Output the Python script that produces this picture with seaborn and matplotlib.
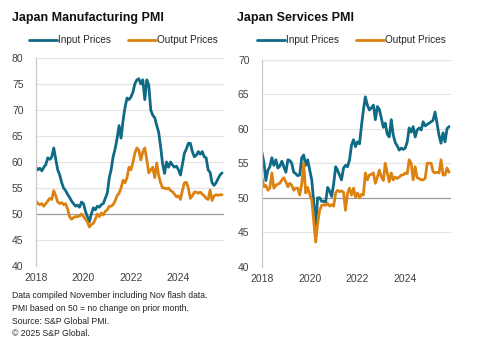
import matplotlib
matplotlib.use("Agg")
import matplotlib.pyplot as plt
import matplotlib.dates as mdates
import numpy as np
import pandas as pd
import seaborn as sns

# Monthly survey readings, Jan 2018 - Nov 2025
months = pd.date_range("2018-01-01", "2025-11-01", freq="MS")

mfg_input = [
    59.0, 58.5, 58.8, 58.3, 59.0, 59.5, 60.8, 60.5, 61.0, 62.7, 60.5, 58.5,
    57.5, 56.0, 55.0, 54.5, 53.8, 53.2, 52.5, 52.0, 51.5, 51.7, 51.3, 52.3,
    52.0, 50.5, 49.5, 48.5, 50.0, 51.2, 50.8, 51.5, 51.3, 51.8, 52.0, 53.0,
    54.0, 57.0, 58.5, 61.0, 62.5, 64.5, 67.0, 64.6, 68.0, 70.5, 72.3, 72.0,
    72.5, 73.5, 75.0, 75.8, 76.0, 75.0, 75.8, 72.0, 75.8, 74.8, 70.0, 69.0,
    68.5, 67.0, 65.8, 63.0, 59.7, 57.8, 60.0, 59.0, 60.0, 59.4, 59.0, 59.2,
    58.5, 57.5, 59.5, 61.7, 62.5, 63.6, 63.6, 62.0, 61.0, 61.3, 62.0, 61.5,
    62.0, 61.0, 60.8, 58.5, 58.0, 56.0, 55.5, 56.0, 56.8, 57.5, 57.9,
]
mfg_output = [
    52.5, 52.0, 51.8, 52.0, 51.5, 52.0, 52.5, 53.0, 52.8, 54.5, 53.5, 52.3,
    52.0, 52.2, 51.8, 52.0, 51.0, 49.5, 49.0, 49.3, 49.5, 49.5, 49.6, 50.0,
    49.5, 49.0, 48.5, 47.5, 48.0, 48.2, 49.0, 50.0, 49.5, 50.2, 49.8, 50.5,
    50.8, 51.5, 51.5, 51.8, 52.5, 53.5, 54.0, 55.0, 56.5, 56.0, 57.0, 59.0,
    58.5, 60.0, 61.7, 62.7, 62.3, 60.4, 61.9, 62.7, 60.4, 57.9, 58.5, 59.0,
    57.0, 59.8, 57.5, 56.0, 55.0, 55.0, 54.8, 55.0, 54.5, 54.3, 53.8, 53.3,
    53.5, 52.8, 54.5, 56.0, 56.1, 55.0, 53.0, 53.5, 54.2, 54.2, 54.0, 54.2,
    53.8, 53.5, 53.0, 52.8, 54.6, 52.6, 53.5, 53.7, 53.6, 53.7, 53.7,
]
svc_input = [
    56.5, 55.0, 52.5, 54.0, 54.5, 55.8, 54.7, 55.5, 54.3, 54.6, 55.3, 54.5,
    53.7, 55.5, 55.4, 55.0, 53.7, 53.5, 53.2, 53.3, 55.8, 56.2, 54.7, 55.5,
    54.0, 52.6, 49.5, 46.0, 50.0, 50.0, 49.5, 49.5, 49.4, 51.5, 51.0, 50.2,
    52.0, 54.5, 54.0, 53.3, 52.6, 54.3, 54.7, 54.5, 55.5, 57.6, 58.4, 57.4,
    58.1, 57.8, 60.3, 62.7, 64.6, 63.4, 62.7, 63.0, 63.4, 61.3, 63.2, 62.8,
    61.5, 60.2, 60.8, 59.2, 58.8, 61.3, 59.1, 58.0, 57.5, 56.9, 57.2, 57.0,
    57.2, 58.1, 60.1, 59.5, 60.3, 58.8, 59.8, 60.1, 59.8, 61.0, 60.4, 60.6,
    60.8, 61.0, 61.2, 62.4, 60.8, 59.0, 57.9, 59.4, 58.1, 60.0, 60.3,
]
svc_output = [
    52.9, 51.6, 51.8, 51.1, 51.4, 53.6, 51.4, 51.8, 52.0, 52.1, 52.6, 52.9,
    52.3, 51.6, 52.1, 51.8, 51.1, 51.4, 51.4, 50.4, 52.0, 55.0, 50.7, 51.5,
    50.5, 49.7, 46.8, 43.6, 46.3, 48.2, 48.9, 49.0, 48.9, 49.2, 48.8, 49.0,
    48.8, 50.7, 51.1, 50.9, 51.0, 50.8, 48.2, 50.7, 51.4, 50.4, 51.4, 50.1,
    50.7, 50.0, 50.5, 50.4, 53.6, 52.6, 53.3, 53.4, 53.6, 52.1, 53.0, 54.0,
    53.0, 52.5, 55.0, 53.6, 52.3, 53.6, 52.6, 53.0, 52.8, 53.0, 53.3, 53.3,
    53.6, 53.5, 55.5, 55.0, 52.6, 54.5, 52.9, 52.8, 52.6, 52.6, 52.8, 55.0,
    55.0, 55.0, 53.8, 53.6, 53.7, 53.6, 55.5, 53.3, 53.3, 54.3, 53.7,
]

series_names = ["Input Prices", "Output Prices"]
panel_titles = ["Japan Manufacturing PMI", "Japan Services PMI"]
y_ranges = [(40, 80), (40, 70)]
footnotes = [
    "Data compiled November including Nov flash data.",
    "PMI based on 50 = no change on prior month.",
    "Source: S&P Global PMI.",
    "\u00a9 2025 S&P Global.",
]

palette = {"Input Prices": "#0e6a85", "Output Prices": "#db8211"}


def long_frame(inp, out):
    return pd.concat([
        pd.DataFrame({"date": months, "value": inp, "series": series_names[0]}),
        pd.DataFrame({"date": months, "value": out, "series": series_names[1]}),
    ], ignore_index=True)


frames = [long_frame(mfg_input, mfg_output), long_frame(svc_input, svc_output)]

sns.set_theme(style="white")
plt.rcParams["font.family"] = ["Liberation Sans", "DejaVu Sans"]

W, H = 480, 344
fig = plt.figure(figsize=(W / 100, H / 100), dpi=100)

# axes boxes in pixel units: left, top, right, bottom
boxes = [(36, 58, 224, 266), (262, 59.5, 451, 267)]
title_x = [12, 237]
legend_x = [29, 257]

for i, (df, box) in enumerate(zip(frames, boxes)):
    l, t, r, b = box
    ax = fig.add_axes([l / W, 1 - b / H, (r - l) / W, (b - t) / H])
    lo, hi = y_ranges[i]
    for v in range(lo, hi + 1, 5):
        ax.axhline(v, color="#9a9a9a" if v == 50 else "#e3e3e3",
                   lw=0.9 if v == 50 else 0.8, zorder=0)
    sns.lineplot(data=df, x="date", y="value", hue="series",
                 palette=palette, linewidth=2.0, ax=ax, legend=True)
    ax.set_ylim(lo, hi)
    ax.set_xlim(pd.Timestamp("2018-01-01"), pd.Timestamp("2025-12-01"))
    ax.set_yticks(range(lo, hi + 1, 5))
    ax.xaxis.set_major_locator(mdates.YearLocator(2))
    ax.xaxis.set_major_formatter(mdates.DateFormatter("%Y"))
    ax.set_xlabel("")
    ax.set_ylabel("")
    ax.tick_params(axis="both", length=0, labelsize=7.5, colors="#404040")
    ax.tick_params(axis="y", pad=9)
    ax.tick_params(axis="x", pad=5)
    for s in ["top", "right", "bottom"]:
        ax.spines[s].set_visible(False)
    ax.spines["left"].set_color("#c8c8c8")
    ax.spines["left"].set_linewidth(0.9)

    handles, labels = ax.get_legend_handles_labels()
    ax.legend(handles, labels, loc="center left",
              bbox_to_anchor=(legend_x[i] / W, 1 - 40 / H),
              bbox_transform=fig.transFigure, ncol=2, frameon=False,
              fontsize=7.2, handlelength=2.8, handletextpad=0.1,
              columnspacing=1.7, borderpad=0, borderaxespad=0)

    fig.text(title_x[i] / W, 1 - 18 / H, panel_titles[i], fontsize=9,
             fontweight="bold", color="#111111", ha="left", va="center")

for k, line in enumerate(footnotes):
    fig.text(12 / W, 1 - (296 + 12.5 * k) / H, line, fontsize=6.2,
             color="#222222", ha="left", va="center")

fig.savefig("out.png", dpi=100)
